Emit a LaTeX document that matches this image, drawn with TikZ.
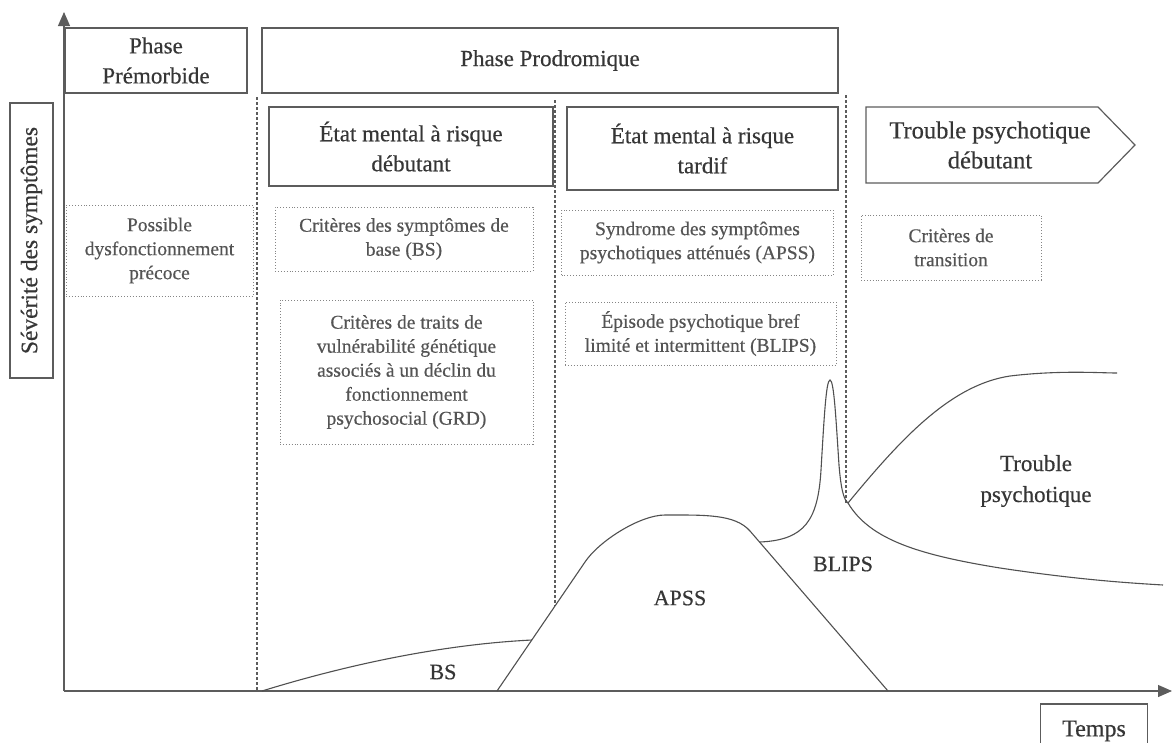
\documentclass[tikz,border=0pt]{standalone}
\usepackage{fontspec}
\setmainfont{Liberation Serif}[FakeBold=0.5]
\usepackage{tikz}
\usetikzlibrary{arrows.meta}
\definecolor{ink}{HTML}{363636}
\definecolor{frame}{HTML}{5C5C5C}
\definecolor{curve}{HTML}{505050}

\begin{document}
\begin{tikzpicture}[x=1pt,y=-1pt,
  phase/.style={draw=frame,line width=1.2pt,align=center,text=ink,inner sep=0pt,font=\fontsize{23}{30}\selectfont},
  crit/.style={draw=frame!75,dotted,line width=0.9pt,align=center,text=ink!85,inner sep=0pt,font=\fontsize{19.5}{24}\selectfont},
  lbl/.style={text=ink,align=center,font=\fontsize{22}{30}\selectfont},
  sep/.style={frame,line width=1.4pt,dash pattern=on 3pt off 2pt}]
  \useasboundingbox (0,0) rectangle (1173,742);
  % axes
  \coordinate (o) at (64,691);
  \draw[-{Triangle[length=14pt,width=12pt]},frame,line width=1.1pt] (o)--(64,12);
  \draw[-{Triangle[length=14pt,width=12pt]},frame,line width=1.1pt] (o)--(1172,691);
  \node[phase,rotate=90,minimum width=275,minimum height=43,font=\fontsize{23.5}{26}\selectfont] (sev) at (31.5,240.5) {Sévérité des symptômes};
  \node[phase,minimum width=107,minimum height=54,font=\fontsize{24}{28}\selectfont] (temps) at (1094,731) {Temps};
  % phases
  \node[phase,minimum width=182,minimum height=65] (premorb) at (156,60.5) {Phase\\Prémorbide};
  \node[phase,minimum width=576,minimum height=65] (prodrom) at (550,60.5) {Phase Prodromique};
  \node[phase,minimum width=284,minimum height=79] (emrd) at (411,146.5) {État mental à risque\\débutant};
  \node[phase,minimum width=271,minimum height=83] (emrt) at (702.5,148.5) {État mental à risque\\tardif};
  \draw[frame,line width=1.2pt] (866,107)--(1098,107)--(1135,145)--(1098,183)--(866,183)--cycle;
  \node[lbl,font=\fontsize{24.5}{30}\selectfont] (tpd) at (990,145) {Trouble psychotique\\débutant};
  % criteria
  \node[crit,minimum width=187,minimum height=91] (precoce) at (159.5,250.5) {Possible\\dysfonctionnement\\précoce};
  \node[crit,minimum width=258,minimum height=64] (critbs) at (404,239) {Critères des symptômes de\\base (BS)};
  \node[crit,minimum width=253,minimum height=144] (critgrd) at (406.5,372) {Critères de traits de\\vulnérabilité génétique\\associés à un déclin du\\fonctionnement\\psychosocial (GRD)};
  \node[crit,minimum width=272,minimum height=65] (critapss) at (697.5,242.5) {Syndrome des symptômes\\psychotiques atténués (APSS)};
  \node[crit,minimum width=271,minimum height=63] (critblips) at (700.5,333.5) {Épisode psychotique bref\\limité et intermittent (BLIPS)};
  \node[crit,minimum width=180,minimum height=65] (crittr) at (951,247.5) {Critères de\\transition};
  % separators
  \draw[sep] (257,97)--(257,691);
  \draw[sep] (555,100)--(555,606);
  \draw[sep] (846,95)--(846,503);
  % curves
  \coordinate (bs0) at (262,691);
  \coordinate (ap0) at (497,691);
  \coordinate (bl0) at (760,542);
  \coordinate (tp0) at (848,503);
  \draw[curve,line width=1.1pt] (bs0) .. controls (330,670) and (430,645) .. (532,640);
  \draw[curve,line width=1.1pt] (ap0) -- (585,562) .. controls (599,541) and (640,515) .. (665,515) .. controls (705,515) and (735,514) .. (750,531) -- (888,691);
  \draw[curve,line width=1.1pt] (bl0) .. controls (805,540) and (818,520) .. (821,470) .. controls (824,420) and (826,380) .. (830,380) .. controls (834,380) and (836,420) .. (839,465) .. controls (841,490) and (844,500) .. (tp0);
  \draw[curve,line width=1.1pt] (tp0) .. controls (870,540) and (920,555) .. (1000,568) .. controls (1080,580) and (1130,583) .. (1163,585);
  \draw[curve,line width=1.1pt] (tp0) .. controls (900,440) and (950,385) .. (1010,376) .. controls (1060,370) and (1100,373) .. (1117,373);
  \node[lbl] (bs) at (443,672) {BS};
  \node[lbl] (apss) at (680,598) {APSS};
  \node[lbl] (blips) at (843,564) {BLIPS};
  \node[lbl,font=\fontsize{23}{31}\selectfont] (tp) at (1036,481) {Trouble\\psychotique};
\end{tikzpicture}
\end{document}
